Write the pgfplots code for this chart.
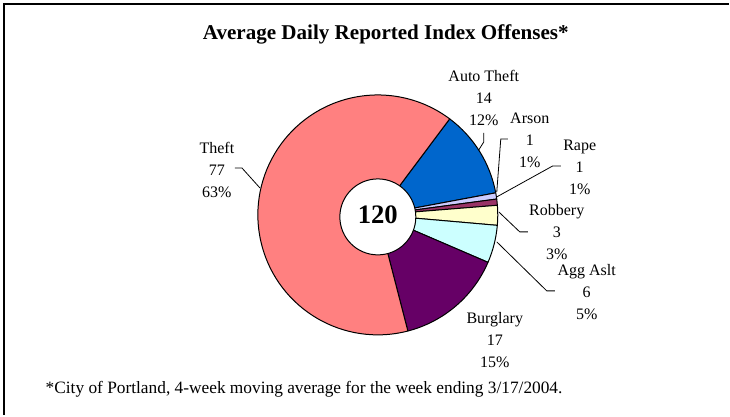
\documentclass[border=0pt]{standalone}
\usepackage{fontspec}
\setmainfont{Liberation Serif}
\usepackage{pgfplots}
\usepackage{pgfplotstable}
\pgfplotsset{compat=1.18}

\definecolor{autoc}{HTML}{0066CC}
\definecolor{arsonc}{HTML}{CCCCFF}
\definecolor{rapec}{HTML}{993366}
\definecolor{robc}{HTML}{FFFFCC}
\definecolor{aggc}{HTML}{CCFFFF}
\definecolor{burgc}{HTML}{660066}
\definecolor{theftc}{HTML}{FF8080}

% average daily offenses, clockwise from the Theft / Auto Theft border
\pgfplotstableread{
value colour
14.2 autoc
1.0 arsonc
1.0 rapec
3.2 robc
6.1 aggc
17.4 burgc
77.1 theftc
}\offenses

\tikzset{lbl/.style={font=\fontsize{12}{16.5}\selectfont,align=center},
  lead/.style={line width=0.6pt}}

\begin{document}
\begin{tikzpicture}
\begin{axis}[x=0.75pt,y=0.75pt,xmin=0,xmax=730,ymin=0,ymax=415,hide axis,clip=false]
  \path (axis cs:0,0) rectangle (axis cs:730,415);
  \draw[line width=2pt] (axis cs:4,0) -- (axis cs:4,411) -- (axis cs:729,411);

  \def\cum{36.8}
  \pgfplotstablegetrowsof{\offenses}
  \pgfmathtruncatemacro\lastrow{\pgfplotsretval-1}
  \pgfplotsforeachungrouped \i in {0,...,\lastrow}{
    \pgfplotstablegetelem{\i}{value}\of\offenses \let\val\pgfplotsretval
    \pgfplotstablegetelem{\i}{colour}\of\offenses \let\col\pgfplotsretval
    \pgfmathsetmacro\angA{90-\cum}
    \pgfmathsetmacro\angB{90-\cum-\val*3}
    \edef\doslice{\noexpand\filldraw[fill=\col,draw=black,line width=0.75pt,line join=round]
      (axis cs:378,200) -- ++(\angA:90pt) arc[start angle=\angA,end angle=\angB,radius=90pt] -- cycle;}
    \doslice
    \pgfmathsetmacro\cum{\cum+\val*3}
  }
  \filldraw[fill=white,draw=black,line width=0.75pt] (axis cs:378,198) circle[radius=28.5pt];
  \node[font=\fontsize{20}{24}\selectfont\bfseries] at (axis cs:378,200) {120};

  \node[font=\fontsize{15.8}{18}\selectfont\bfseries] at (axis cs:386,381) {Average Daily Reported Index Offenses*};

  \node[lbl] at (axis cs:217,245) {Theft\\77\\63\%};
  \node[lbl] at (axis cs:484,317) {Auto Theft\\14\\12\%};
  \node[lbl] at (axis cs:530,275) {Arson\\1\\1\%};
  \node[lbl] at (axis cs:580,248) {Rape\\1\\1\%};
  \node[lbl] at (axis cs:557,183) {Robbery\\3\\3\%};
  \node[lbl] at (axis cs:587,123) {Agg Aslt\\6\\5\%};
  \node[lbl] at (axis cs:495,75) {Burglary\\17\\15\%};

  \draw[lead] (axis cs:235,247) -- (axis cs:242,247) -- (axis cs:260,227);
  \draw[lead] (axis cs:484,282) -- (axis cs:484,273) -- (axis cs:479,265);
  \draw[lead] (axis cs:508,276) -- (axis cs:501,276) -- (axis cs:497,223);
  \draw[lead] (axis cs:561,249) -- (axis cs:553,249) -- (axis cs:497,218);
  \draw[lead] (axis cs:499,203) -- (axis cs:520,183) -- (axis cs:528,183);
  \draw[lead] (axis cs:497,173) -- (axis cs:547,124) -- (axis cs:555,124);

  \node[font=\fontsize{13}{16}\selectfont,anchor=west] at (axis cs:41,26) {*City of Portland, 4-week moving average for the week ending 3/17/2004.};
\end{axis}
\end{tikzpicture}
\end{document}
